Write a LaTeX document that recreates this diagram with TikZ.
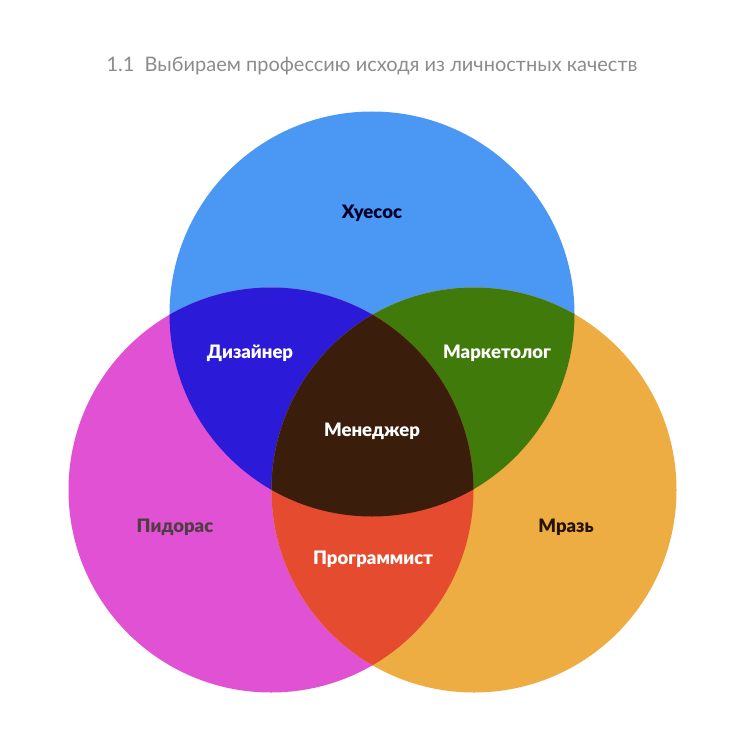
\documentclass[tikz,border=0pt]{standalone}
\usepackage{fontspec}
\setmainfont{Lato}
\newfontfamily\lblack{Lato Black}
\definecolor{cblue}{HTML}{4A97F4}
\definecolor{cmag}{HTML}{E052D3}
\definecolor{corange}{HTML}{EEAD43}
\definecolor{cbm}{HTML}{2B1BD8}
\definecolor{cbo}{HTML}{407A0B}
\definecolor{cmo}{HTML}{E54C2F}
\definecolor{call}{HTML}{3A1D0B}
\definecolor{ctitle}{HTML}{8C8C8C}
\begin{document}
\begin{tikzpicture}[x=1pt,y=-1pt,
  lbl/.style={font=\lblack\fontsize{18.5}{22}\selectfont, text=white, inner sep=0pt},
  darklbl/.style={lbl, text=#1}]
\useasboundingbox (0,0) rectangle (743,730);
\fill[white] (0,0) rectangle (743,730);
\def\R{202.5}
\coordinate (T) at (372,314);
\coordinate (L) at (271,490);
\coordinate (Rc) at (474,490);
% base circles
\fill[cblue] (T) circle (\R);
\fill[cmag] (L) circle (\R);
\fill[corange] (Rc) circle (\R);
% pairwise
\begin{scope}\clip (T) circle (\R); \fill[cbm] (L) circle (\R); \end{scope}
\begin{scope}\clip (T) circle (\R); \fill[cbo] (Rc) circle (\R); \end{scope}
\begin{scope}\clip (L) circle (\R); \fill[cmo] (Rc) circle (\R); \end{scope}
\begin{scope}\clip (T) circle (\R); \clip (L) circle (\R); \fill[call] (Rc) circle (\R); \end{scope}
% title
\node[text=ctitle, font=\fontsize{20}{24}\selectfont, inner sep=0pt] (title) at (372,66) {1.1\ \ Выбираем профессию исходя из личностных качеств};
% labels
\node[darklbl=black!85!blue] (h) at (372,213) {Хуесос};
\node[lbl] (d) at (250,353) {Дизайнер};
\node[lbl] (m) at (497,353) {Маркетолог};
\node[lbl] (men) at (372,431) {Менеджер};
\node[darklbl=black!80!magenta] (p) at (175,527) {Пидорас};
\node[darklbl=black!85!orange] (mz) at (566,527) {Мразь};
\node[lbl] (pr) at (373,559) {Программист};
\end{tikzpicture}
\end{document}
